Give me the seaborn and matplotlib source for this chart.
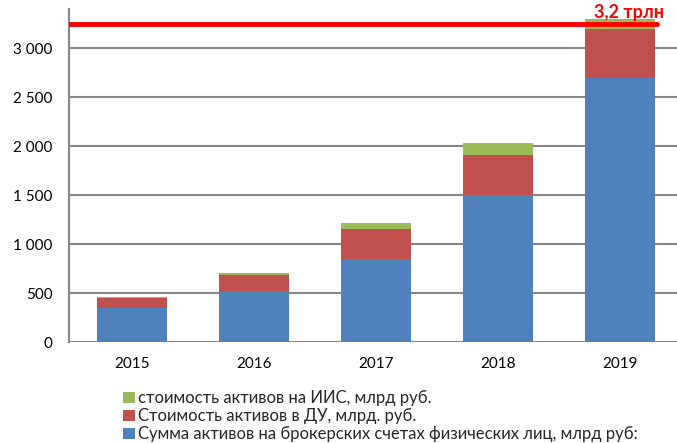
import pandas as pd
import matplotlib.pyplot as plt
import seaborn as sns
from matplotlib.patches import Patch
from matplotlib.ticker import FuncFormatter

years = ['2015', '2016', '2017', '2018', '2019']
broker = [350, 520, 850, 1500, 2700]   # брокерские счета
du = [100, 160, 305, 410, 500]          # ДУ
iis = [5, 20, 55, 125, 100]             # ИИС
total_line = 3250                       # 3,2 трлн

labels = ['стоимость активов на ИИС, млрд руб.',
          'Стоимость активов в ДУ, млрд. руб.',
          'Сумма активов на брокерских счетах физических лиц, млрд руб:']
colors = ['#9BBB59', '#C0504D', '#4F81BD']

df = pd.DataFrame({'year': years, 'broker': broker, 'du': du, 'iis': iis})
df['lvl2'] = df['broker'] + df['du']
df['lvl3'] = df['lvl2'] + df['iis']

sns.set_theme(style='white')
plt.rcParams['font.family'] = ['Lato', 'DejaVu Sans']

fig = plt.figure(figsize=(6.77, 4.43), dpi=100)
ax = fig.add_axes([69 / 677, 1 - 342 / 443, 1 - 69 / 677, 333 / 443])

# рисуем сверху вниз: сумма, потом меньше
for col, c in zip(['lvl3', 'lvl2', 'broker'], colors):
    sns.barplot(data=df, x='year', y=col, color=c, width=0.574,
                saturation=1, ax=ax, zorder=3, edgecolor='none', linewidth=0)

ax.axhline(total_line, xmin=0, xmax=(4.3 + 0.516) / (4.467 + 0.516),
           color='#FF0000', lw=3.5, zorder=4)
fig.text(594 / 677, 1 - 18 / 443, '3,2 трлн', color='#FF0000',
         fontsize=13, fontweight='bold', ha='left', va='baseline')

ax.set_xlim(-0.516, 4.467)
ax.set_ylim(0, 3400)
ax.set_yticks([0, 500, 1000, 1500, 2000, 2500, 3000])
ax.yaxis.set_major_formatter(FuncFormatter(lambda v, p: f'{int(v):,}'.replace(',', ' ')))
ax.grid(axis='y', color='#868686', lw=1.5, zorder=0)
ax.set_axisbelow(True)
ax.set_xlabel('')
ax.set_ylabel('')
for s in ['top', 'right', 'bottom']:
    ax.spines[s].set_visible(False)
ax.spines['left'].set_color('#868686')
ax.spines['left'].set_linewidth(1.5)
ax.tick_params(axis='both', length=0, labelsize=11, colors='black')
ax.tick_params(axis='y', pad=12)
ax.tick_params(axis='x', pad=11)

handles = [Patch(facecolor=c, edgecolor='none') for c in colors]
fig.legend(handles, labels, loc='upper left',
           bbox_to_anchor=(115 / 677, 1 - 382 / 443), frameon=False,
           fontsize=12, handlelength=0.7, handleheight=0.7,
           handletextpad=0.2, labelspacing=0.12, borderpad=0)

fig.savefig('out.png', dpi=100)
